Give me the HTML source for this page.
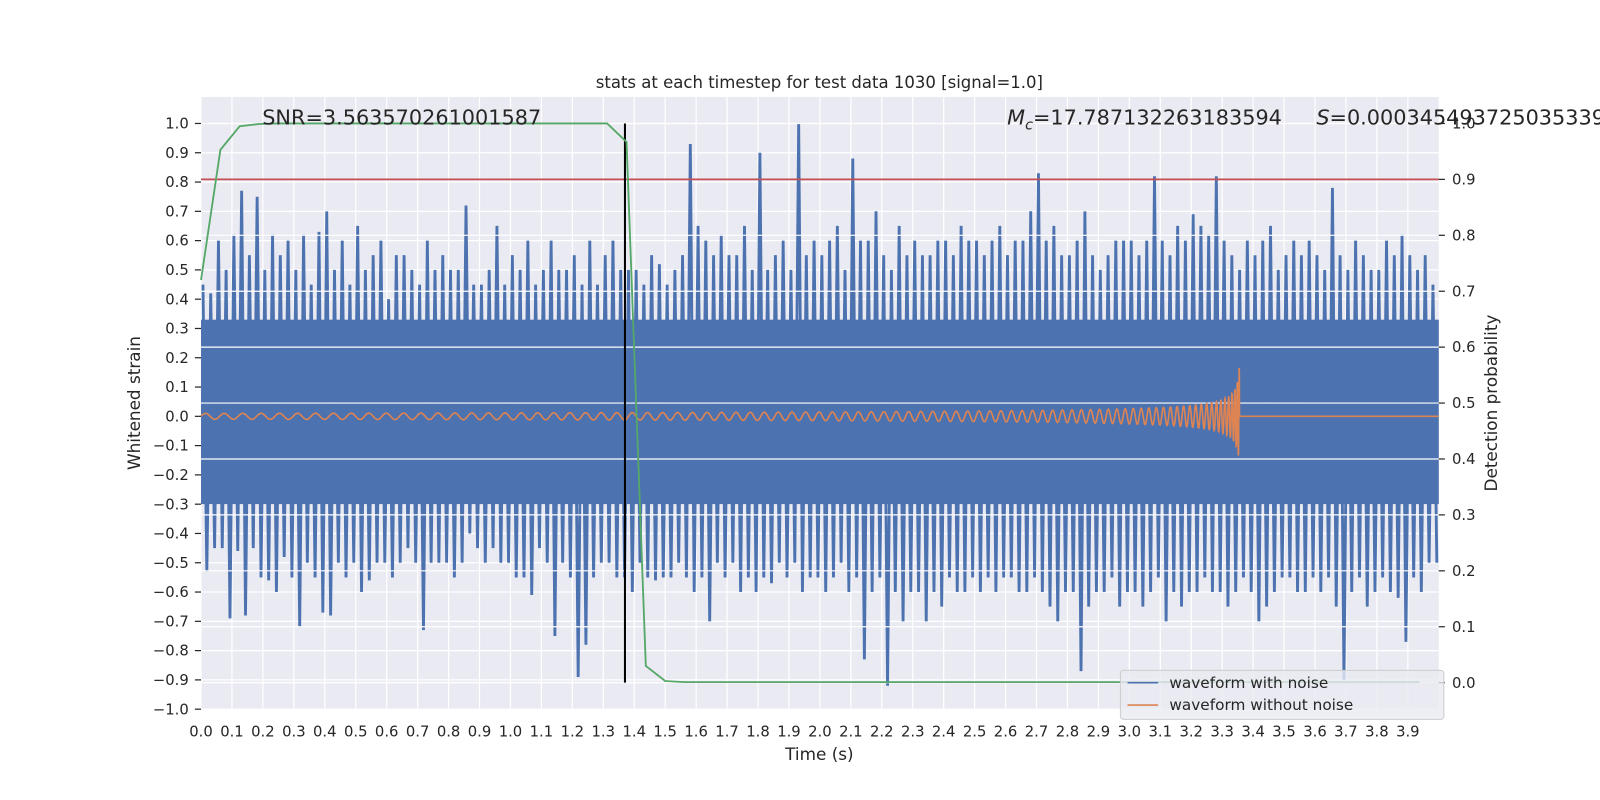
<!DOCTYPE html>
<html><head><meta charset="utf-8"><style>
body{margin:0;background:#fff}
svg{display:block;font-family:"DejaVu Sans","Liberation Sans",sans-serif}
</style></head><body>
<svg id="chart" width="1600" height="800" viewBox="0 0 1568 784" preserveAspectRatio="none">
<rect x="0" y="0" width="1568" height="784" fill="#fff"/>
<rect x="197" y="95" width="1213" height="600" fill="#EAEAF2"/>
<g id="gridL"></g>
<g id="blue"></g>
<g id="gridR"></g>
<path id="orange" fill="none" stroke="#DD8452" stroke-width="1.6"/>
<line id="thresh" stroke="#C44E52" stroke-width="1.8"/>
<line id="vline" stroke="#000" stroke-width="2"/>
<polyline id="green" fill="none" stroke="#55A868" stroke-width="1.8"/>
<g id="ticks"></g>
<text x="803" y="86" text-anchor="middle" font-size="16.2" fill="#262626">stats at each timestep for test data 1030 [signal=1.0]</text>
<text x="803" y="745" text-anchor="middle" font-size="16.5" fill="#262626">Time (s)</text>
<text transform="translate(137,395) rotate(-90)" text-anchor="middle" font-size="16.5" fill="#262626">Whitened strain</text>
<text transform="translate(1467,395) rotate(-90)" text-anchor="middle" font-size="16.5" fill="#262626">Detection probability</text>
<text x="257" y="122" font-size="20.4" fill="#262626">SNR=3.563570261001587</text>
<text x="987" y="122" font-size="20.4" fill="#262626"><tspan font-style="italic">M</tspan><tspan font-style="italic" font-size="14" dy="5">c</tspan><tspan dy="-5">=17.787132263183594</tspan></text>
<text x="1290" y="122" font-size="20.4" fill="#262626"><tspan font-style="italic">S</tspan>=0.0003454937250353394</text>
<g>
<rect x="1098" y="657" width="317" height="48" rx="3" fill="#EAEAF2" fill-opacity="0.8" stroke="#ccc"/>
<line x1="1105" y1="669" x2="1135" y2="669" stroke="#4C72B0" stroke-width="1.6"/>
<text x="1146" y="674" font-size="15" fill="#262626">waveform with noise</text>
<line x1="1105" y1="691" x2="1135" y2="691" stroke="#DD8452" stroke-width="1.6"/>
<text x="1146" y="696" font-size="15" fill="#262626">waveform without noise</text>
</g>
</svg>
<script>
const upperPeaks=[0.45,0.42,0.6,0.5,0.62,0.77,0.55,0.75,0.5,0.62,0.55,0.6,0.5,0.62,0.45,0.63,0.7,0.5,0.6,0.45,0.65,0.5,0.55,0.6,0.4,0.55,0.55,0.5,0.45,0.6,0.5,0.55,0.5,0.5,0.72,0.45,0.45,0.5,0.65,0.45,0.55,0.5,0.6,0.45,0.5,0.6,0.5,0.5,0.55,0.45,0.6,0.45,0.55,0.6,0.5,0.5,0.5,0.45,0.55,0.52,0.45,0.5,0.55,0.93,0.65,0.6,0.55,0.62,0.55,0.55,0.65,0.5,0.9,0.5,0.55,0.6,0.5,1.0,0.55,0.6,0.55,0.6,0.65,0.5,0.88,0.6,0.6,0.7,0.55,0.5,0.65,0.55,0.6,0.55,0.55,0.6,0.6,0.55,0.65,0.6,0.6,0.55,0.6,0.65,0.55,0.6,0.6,0.7,0.83,0.6,0.65,0.55,0.55,0.6,0.7,0.55,0.5,0.55,0.6,0.6,0.6,0.55,0.6,0.82,0.6,0.55,0.65,0.6,0.69,0.65,0.62,0.82,0.6,0.55,0.5,0.6,0.55,0.6,0.65,0.5,0.55,0.6,0.55,0.6,0.55,0.5,0.78,0.55,0.5,0.6,0.55,0.5,0.5,0.6,0.55,0.62,0.55,0.5,0.55,0.45];
const lowerPeaks=[-0.53,-0.45,-0.45,-0.69,-0.46,-0.68,-0.45,-0.55,-0.56,-0.6,-0.48,-0.55,-0.72,-0.5,-0.55,-0.67,-0.68,-0.5,-0.55,-0.5,-0.6,-0.56,-0.5,-0.5,-0.55,-0.5,-0.45,-0.5,-0.73,-0.5,-0.5,-0.5,-0.55,-0.5,-0.4,-0.45,-0.5,-0.45,-0.5,-0.5,-0.55,-0.55,-0.61,-0.45,-0.5,-0.75,-0.5,-0.55,-0.89,-0.78,-0.55,-0.5,-0.5,-0.55,-0.55,-0.6,-0.5,-0.55,-0.56,-0.55,-0.55,-0.5,-0.55,-0.6,-0.55,-0.7,-0.5,-0.55,-0.5,-0.6,-0.55,-0.6,-0.55,-0.57,-0.5,-0.55,-0.5,-0.6,-0.55,-0.55,-0.6,-0.55,-0.5,-0.6,-0.55,-0.83,-0.6,-0.55,-0.92,-0.6,-0.7,-0.6,-0.6,-0.7,-0.6,-0.65,-0.55,-0.6,-0.6,-0.55,-0.6,-0.55,-0.6,-0.55,-0.55,-0.6,-0.6,-0.55,-0.6,-0.65,-0.7,-0.6,-0.6,-0.87,-0.65,-0.6,-0.6,-0.55,-0.65,-0.6,-0.6,-0.65,-0.6,-0.55,-0.7,-0.6,-0.65,-0.6,-0.6,-0.55,-0.6,-0.6,-0.65,-0.6,-0.55,-0.6,-0.7,-0.65,-0.6,-0.55,-0.55,-0.6,-0.6,-0.55,-0.6,-0.55,-0.65,-0.9,-0.6,-0.55,-0.65,-0.6,-0.55,-0.6,-0.62,-0.77,-0.55,-0.6,-0.5,-0.5];
const binWidth=[0.025];
const coreBand=[-0.3,0.33];
const detectProb=[0.72,0.953,0.995,0.999,1,1,1,1,1,1,1,1,1,1,1,1,1,1,1,1,1,1,0.967,0.03,0.003,0.001,0.001,0.001,0.001,0.001,0.001,0.001,0.001,0.001,0.001,0.001,0.001,0.001,0.001,0.001,0.001,0.001,0.001,0.001,0.001,0.001,0.001,0.001,0.001,0.001,0.001,0.001,0.001,0.001,0.001,0.001,0.001,0.001,0.001,0.001,0.001,0.001,0.001,0.001];
const probStep=[0.0625];
const chirpParams=[3.36,16.5,0.01,1.15]; // tc, f0, A0, amp exponent
const threshold=[0.9];
const detectTime=[1.37];
const xTicks=[0,0.1,0.2,0.3,0.4,0.5,0.6,0.7,0.8,0.9,1.0,1.1,1.2,1.3,1.4,1.5,1.6,1.7,1.8,1.9,2.0,2.1,2.2,2.3,2.4,2.5,2.6,2.7,2.8,2.9,3.0,3.1,3.2,3.3,3.4,3.5,3.6,3.7,3.8,3.9];
const yTicksL=[-1,-0.9,-0.8,-0.7,-0.6,-0.5,-0.4,-0.3,-0.2,-0.1,0,0.1,0.2,0.3,0.4,0.5,0.6,0.7,0.8,0.9,1.0];
const yTicksR=[0,0.1,0.2,0.3,0.4,0.5,0.6,0.7,0.8,0.9,1.0];

const NS='http://www.w3.org/2000/svg';
const X=t=>197+(t/4)*1213;
const YL=v=>408-v*287;
const YR=p=>669-p*548;
function mk(tag,parent,attrs){const e=document.createElementNS(NS,tag);for(const k in attrs)e.setAttribute(k,attrs[k]);parent.appendChild(e);return e;}

const gL=document.getElementById('gridL'),gR=document.getElementById('gridR'),tk=document.getElementById('ticks'),bl=document.getElementById('blue');
xTicks.forEach(t=>{
  const l=mk('line',gL,{x1:X(t),x2:X(t),y1:95,y2:695,stroke:'#fff','stroke-width':1.2});
  
  
  const tx=mk('text',tk,{x:X(t),y:722,'text-anchor':'middle','font-size':14.5,fill:'#262626'});
  tx.textContent=t.toFixed(1);
  
  
});
yTicksL.forEach(v=>{
  const l=mk('line',gL,{x1:197,x2:1410,y1:YL(v),y2:YL(v),stroke:'#fff','stroke-width':1.2});
  
  
  const m=mk('line',tk,{x1:191,x2:197,y1:YL(v),y2:YL(v),stroke:'#262626','stroke-width':1.2});
  
  
  const tx=mk('text',tk,{x:185,y:YL(v)+5,'text-anchor':'end','font-size':14.5,fill:'#262626'});
  tx.textContent=(v<0?'\u2212':'')+Math.abs(v).toFixed(1);
  
  
});
yTicksR.forEach(p=>{
  const l=mk('line',gR,{x1:197,x2:1410,y1:YR(p),y2:YR(p),stroke:'#fff','stroke-width':1.2});
  
  
  const m=mk('line',tk,{x1:1410,x2:1416,y1:YR(p),y2:YR(p),stroke:'#262626','stroke-width':1.2});
  
  
  const tx=mk('text',tk,{x:1423,y:YR(p)+5,'font-size':14.5,fill:'#262626'});
  tx.textContent=p.toFixed(1);
  
  
});

// blue noise
const core=mk('rect',bl,{x:X(0),y:YL(coreBand[1]),width:X(upperPeaks.length*binWidth[0])-X(0),height:YL(coreBand[0])-YL(coreBand[1]),fill:'#4C72B0'});


let d='';
upperPeaks.forEach((u,i)=>{
  const t0=i*binWidth[0];
  d+=(i?'L':'M')+X(t0+binWidth[0]*0.25).toFixed(1)+','+YL(u).toFixed(1);
  d+='L'+X(t0+binWidth[0]*0.75).toFixed(1)+','+YL(lowerPeaks[i]).toFixed(1);
});
const bp=mk('path',bl,{d:d,fill:'none',stroke:'#4C72B0','stroke-width':2.8});



// orange chirp
const [tc,f0,A0,ex]=chirpParams;
let od='',phase=0,dt=0.0005;
for(let t=0;t<=4;t+=dt){
  let v=0;
  if(t<tc-0.004){
    const f=f0*Math.pow(1-t/tc,-3/8);
    phase+=2*Math.PI*f*dt;
    v=A0*Math.pow(f/f0,ex)*Math.sin(phase);
  }
  od+=(t?'L':'M')+X(t).toFixed(2)+','+YL(v).toFixed(2);
}
document.getElementById('orange').setAttribute('d',od);

// threshold, detection line
const th=document.getElementById('thresh');
th.setAttribute('x1',197);th.setAttribute('x2',1410);th.setAttribute('y1',YR(threshold[0]));th.setAttribute('y2',YR(threshold[0]));
const vl=document.getElementById('vline');
vl.setAttribute('x1',X(detectTime[0]));vl.setAttribute('x2',X(detectTime[0]));vl.setAttribute('y1',YR(1));vl.setAttribute('y2',YR(0));

// green
document.getElementById('green').setAttribute('points',detectProb.map((p,i)=>X(i*probStep[0]).toFixed(1)+','+YR(p).toFixed(1)).join(' '));
</script>
</body></html>
